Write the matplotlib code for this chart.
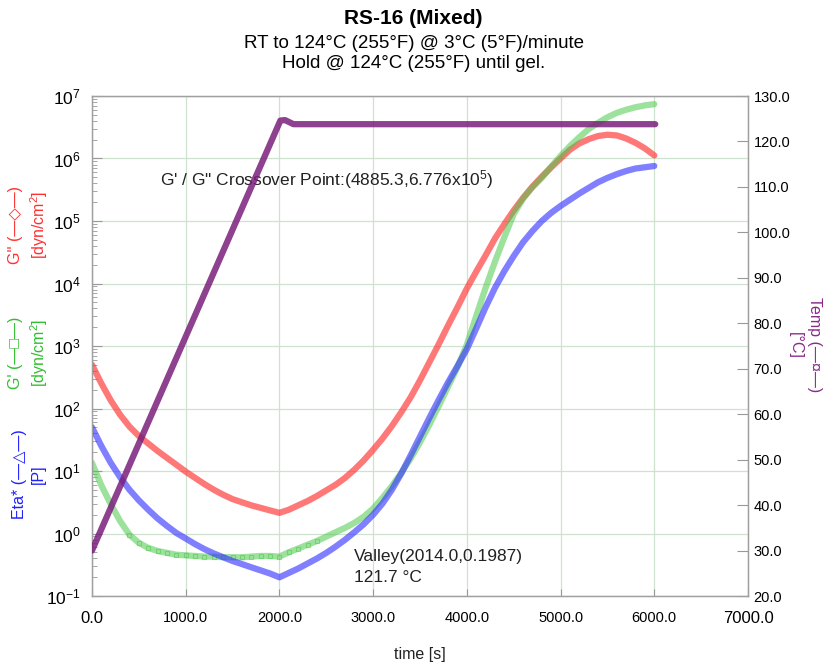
import matplotlib
matplotlib.use("Agg")
import matplotlib.pyplot as plt
from matplotlib.ticker import FixedLocator, FuncFormatter, LogLocator, NullFormatter

plt.rcParams['font.family'] = ['Liberation Sans', 'DejaVu Sans']
plt.rcParams['mathtext.fontset'] = 'custom'
plt.rcParams['mathtext.rm'] = 'Liberation Sans'
plt.rcParams['mathtext.it'] = 'Liberation Sans:italic'
plt.rcParams['mathtext.bf'] = 'Liberation Sans:bold'

# ---------------- data ----------------
time_s = [0, 100, 200, 300, 400, 500, 600, 700, 800, 900,
          1000, 1100, 1200, 1300, 1400, 1500, 1600, 1700, 1800, 1900,
          2000, 2100, 2200, 2300, 2400, 2500, 2600, 2700, 2800, 2900,
          3000, 3100, 3200, 3300, 3400, 3500, 3600, 3700, 3800, 3900,
          4000, 4100, 4200, 4300, 4400, 4500, 4600, 4700, 4800, 4900,
          5000, 5100, 5200, 5300, 5400, 5500, 5600, 5700, 5800, 5900, 6000]

eta_star_P = [50.1, 25.1, 13.5, 7.94, 5.01, 3.39, 2.40, 1.74, 1.32, 1.02,
              0.832, 0.676, 0.562, 0.479, 0.417, 0.363, 0.324, 0.288, 0.257, 0.229,
              0.199, 0.234, 0.275, 0.331, 0.398, 0.490, 0.617, 0.794, 1.05, 1.41,
              2.00, 3.02, 5.01, 9.12, 17.8, 35.5, 70.8, 138, 263, 479,
              891, 1910, 4170, 8510, 15800, 27500, 45700, 69200, 100000, 135000,
              174000, 219000, 275000, 339000, 417000, 490000, 562000, 631000, 692000, 724000, 759000]

g_dblprime = [501, 251, 135, 79.4, 51.3, 36.3, 27.5, 20.9, 16.2, 12.6,
              9.77, 7.76, 6.17, 5.01, 4.17, 3.55, 3.16, 2.82, 2.57, 2.34,
              2.14, 2.40, 2.82, 3.31, 3.98, 4.90, 6.03, 7.76, 10.5, 14.8,
              21.9, 33.1, 52.5, 87.1, 151, 282, 550, 1070, 2140, 4170,
              8320, 15500, 28200, 52500, 89100, 148000, 234000, 355000, 513000, 724000,
              1000000, 1380000, 1740000, 2040000, 2290000, 2400000, 2340000, 2090000, 1780000, 1450000, 1120000]

g_prime = [13.5, 5.89, 2.95, 1.58, 0.955, 0.708, 0.589, 0.525, 0.490, 0.457,
           0.447, 0.437, 0.427, 0.427, 0.417, 0.417, 0.417, 0.427, 0.437, 0.437,
           0.427, 0.501, 0.575, 0.661, 0.759, 0.891, 1.05, 1.23, 1.48, 1.86,
           2.51, 3.72, 5.75, 9.33, 15.8, 28.8, 55.0, 110, 224, 457,
           1050, 3020, 8510, 22400, 55000, 129000, 229000, 347000, 490000, 741000,
           1100000, 1580000, 2190000, 2950000, 3720000, 4570000, 5370000, 6030000, 6610000, 7080000, 7410000]

temp_time_s = [0, 2010, 2060, 2150, 6010]
temp_C = [30.0, 124.6, 124.7, 123.8, 123.8]

x_ticks = [0, 1000, 2000, 3000, 4000, 5000, 6000, 7000]
temp_ticks = [20, 30, 40, 50, 60, 70, 80, 90, 100, 110, 120, 130]

# ---------------- figure ----------------
W, H = 827, 669
fig = plt.figure(figsize=(W / 100, H / 100), dpi=100)
L, R, T, B = 92, 748, 96, 596
ax = fig.add_axes([L / W, 1 - B / H, (R - L) / W, (B - T) / H])

ax.set_yscale('log')
ax.set_xlim(0, 7000)
ax.set_ylim(1e-1, 1e7)

red = '#ff3030'
blue = '#3a3aff'
green = '#4cc94c'
purple = '#7a1f7a'

ax.plot(time_s, g_dblprime, color=red, lw=4.5, alpha=0.65, solid_capstyle='round', zorder=3)
ax.plot(time_s, g_prime, color=green, lw=4.5, alpha=0.55, solid_capstyle='round', zorder=3,
        marker='s', ms=3.5, mfc='none', mec=green, mew=0.8, markevery=slice(4, 25))
ax.plot(time_s, eta_star_P, color=blue, lw=4.5, alpha=0.65, solid_capstyle='round', zorder=3)

ax.grid(True, which='major', color='#cfe2cf', lw=0.9, zorder=0)
ax.set_xticks(x_ticks)
ax.xaxis.set_major_formatter(FuncFormatter(lambda v, p: f"{v:.1f}"))
ax.yaxis.set_major_locator(LogLocator(base=10, numticks=20))
ax.yaxis.set_minor_locator(LogLocator(base=10, subs=range(2, 10), numticks=20))
ax.yaxis.set_minor_formatter(NullFormatter())

ax.tick_params(axis='both', which='both', direction='in', color='#999999')
ax.tick_params(axis='y', which='major', length=7, labelsize=12.5, pad=8)
ax.tick_params(axis='y', which='minor', length=3.5)
ax.tick_params(axis='x', which='major', length=5, labelsize=10.5, pad=11)
for lab in ax.get_xticklabels():
    if lab.get_text() in ('0.0', '7000.0'):
        lab.set_fontsize(12)
for s in ax.spines.values():
    s.set_color('#a0a0a0')
    s.set_linewidth(1.0)

ax2 = ax.twinx()
ax2.set_ylim(20, 130)
ax2.plot(temp_time_s, temp_C, color=purple, lw=4.5, alpha=0.85, solid_capstyle='round', zorder=4)
ax2.yaxis.set_major_locator(FixedLocator(temp_ticks))
ax2.yaxis.set_major_formatter(FuncFormatter(lambda v, p: f"{v:.1f}"))
ax2.tick_params(axis='y', direction='in', length=8, color='#999999', labelsize=10.5, pad=4)
for s in ax2.spines.values():
    s.set_color('#a0a0a0')

# annotations
ax.text(723, 10 ** 5.66, "G' / G\" Crossover Point:(4885.3,6.776x10$^5$)", fontsize=12.5,
        color='#222222', va='center', ha='left')
ax.text(2798, 10 ** -0.36, "Valley(2014.0,0.1987)", fontsize=12.5, color='#222222', va='center')
ax.text(2798, 10 ** -0.71, "121.7 \u00b0C", fontsize=12.5, color='#222222', va='center')

# axis labels
fig.text(29 / W, 1 - 225 / H, "G'' (\u2014\u25c7\u2014)\n[dyn/cm$^2$]", rotation=90, color='#ff3030',
         fontsize=11.5, ha='center', va='center', multialignment='center', linespacing=1.3)
fig.text(29 / W, 1 - 353 / H, "G' (\u2014\u25a1\u2014)\n[dyn/cm$^2$]", rotation=90, color='#2fbf2f',
         fontsize=11.5, ha='center', va='center', multialignment='center', linespacing=1.3)
fig.text(29 / W, 1 - 474 / H, "Eta* (\u2014\u25b3\u2014)\n[P]", rotation=90, color='#2020ff',
         fontsize=11.5, ha='center', va='center', multialignment='center', linespacing=1.3)
fig.text(805 / W, 1 - 345 / H, "Temp (\u2014\u00a4\u2014)\n[\u00b0C]", rotation=-90, color='#8a2a8a',
         fontsize=11.5, ha='center', va='center', multialignment='center', linespacing=1.3)
fig.text(420 / W, 1 - 655 / H, "time [s]", fontsize=11.5, ha='center', va='center', color='#222222')

# titles
fig.text(0.5, 1 - 18 / H, "RS-16 (Mixed)", fontsize=15, fontweight='bold', ha='center', va='center')
fig.text(0.5, 1 - 43 / H, "RT to 124\u00b0C (255\u00b0F) @ 3\u00b0C (5\u00b0F)/minute", fontsize=13.5,
         ha='center', va='center')
fig.text(0.5, 1 - 64 / H, "Hold @ 124\u00b0C (255\u00b0F) until gel.", fontsize=13.5,
         ha='center', va='center')

fig.savefig("out.png", dpi=100)
